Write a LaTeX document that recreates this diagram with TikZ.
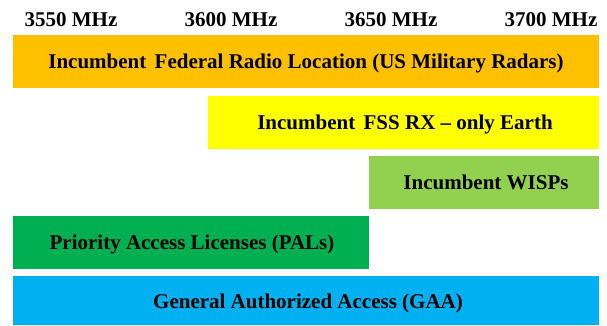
\documentclass[tikz,border=0pt]{standalone}
\usepackage{fontspec}
\setmainfont{Liberation Serif}
\definecolor{cOrange}{HTML}{FFC000}
\definecolor{cYellow}{HTML}{FFFF00}
\definecolor{cLightGreen}{HTML}{92D050}
\definecolor{cGreen}{HTML}{00B050}
\definecolor{cBlue}{HTML}{00B0F0}
\tikzset{
  bandlabel/.style={font=\fontsize{21}{24}\selectfont\bfseries, text=black, anchor=base, inner sep=0pt},
  freqlabel/.style={font=\fontsize{21}{24}\selectfont\bfseries, text=black, anchor=base, inner sep=0pt},
}
\begin{document}
\begin{tikzpicture}[x=1pt,y=-1pt]
\useasboundingbox (0,0) rectangle (607,325);
% frequency labels
\node[freqlabel] (f3550) at (71,26) {3550 MHz};
\node[freqlabel] (f3600) at (231,26) {3600 MHz};
\node[freqlabel] (f3650) at (391,26) {3650 MHz};
\node[freqlabel] (f3700) at (551,26) {3700 MHz};
% bands
\fill[cOrange] (13,35) rectangle (599,88);
\node[bandlabel] (radar) at (306,68.5) {Incumbent\hspace{0.4em}Federal Radio Location (US Military Radars)};
\fill[cYellow] (208,96) rectangle (599,149);
\node[bandlabel] (fss) at (405,129.5) {Incumbent\hspace{0.4em}FSS RX -- only Earth};
\fill[cLightGreen] (369,156) rectangle (599,209);
\node[bandlabel] (wisp) at (486,189.5) {Incumbent WISPs};
\fill[cGreen] (13,216) rectangle (369,269);
\node[bandlabel] (pal) at (192,249.5) {Priority Access Licenses (PALs)};
\fill[cBlue] (13,276) rectangle (599,325);
\node[bandlabel] (gaa) at (308,308) {General Authorized Access (GAA)};
\end{tikzpicture}
\end{document}
